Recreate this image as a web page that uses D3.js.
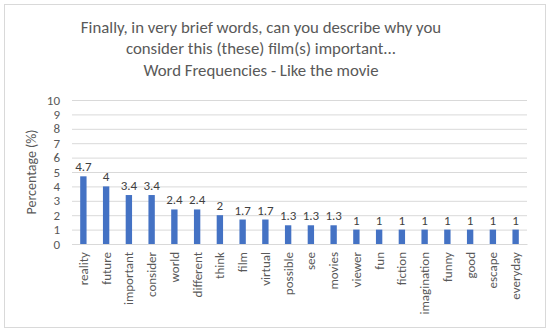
<!DOCTYPE html>
<html><head><meta charset="utf-8">
<script src="https://cdn.jsdelivr.net/npm/d3@7"></script>
<style>body{margin:0;background:#fff}svg{display:block}text{font-family:Calibri,Carlito,"Open Sans","Liberation Sans",sans-serif}</style>
</head><body><svg id="c" width="550" height="333"></svg>
<script>
const categories = ["reality","future","important","consider","world","different","think","film","virtual","possible","see","movies","viewer","fun","fiction","imagination","funny","good","escape","everyday"];
const values = [4.7,4,3.4,3.4,2.4,2.4,2,1.7,1.7,1.3,1.3,1.3,1,1,1,1,1,1,1,1];
const yTicks = [0,1,2,3,4,5,6,7,8,9,10];
const titleLines = ["Finally, in very brief words, can you describe why you","consider this (these) film(s) important...","Word Frequencies - Like the movie"];

const svg = d3.select("#c");
const grey = "#595959";
svg.append("rect").attr("x",4.5).attr("y",4.5).attr("width",541).attr("height",323).attr("fill","#fff").attr("stroke","#d9d9d9");

const L=72,R=527,T=100,B=244;
const x = d3.scaleBand().domain(categories).range([L,R]).paddingInner(0.72).paddingOuter(0.36);
const y = d3.scaleLinear().domain([0,10]).range([B,T]);

svg.append("g").selectAll("line").data(yTicks).join("line")
 .attr("x1",L).attr("x2",R).attr("y1",d=>y(d)+0.5).attr("y2",d=>y(d)+0.5)
 .attr("stroke","#d9d9d9").attr("stroke-width",1);

const ya = d3.axisLeft(y).tickValues(yTicks).tickSize(0).tickPadding(12);
const yg = svg.append("g").attr("transform",`translate(${L},0)`).call(ya);
yg.select(".domain").remove();
yg.selectAll("text").attr("fill",grey).attr("font-size",13).style("font-family",null);

svg.append("g").selectAll("rect").data(values).join("rect")
 .attr("x",(d,i)=>x(categories[i])).attr("width",x.bandwidth())
 .attr("y",d=>y(d)).attr("height",d=>B-y(d)).attr("fill","#4472C4");

svg.append("g").selectAll("text").data(values).join("text")
 .attr("x",(d,i)=>x(categories[i])+x.bandwidth()/2).attr("y",d=>y(d)-5)
 .attr("text-anchor","middle").attr("fill","#404040").attr("font-size",13).text(d=>d);

const xa = d3.axisBottom(x).tickSize(0).tickPadding(0);
const xg = svg.append("g").attr("transform",`translate(0,${B})`).call(xa);
xg.select(".domain").attr("stroke","#d9d9d9");
xg.selectAll("text").attr("fill",grey).attr("font-size",13).style("font-family",null)
 .attr("transform","rotate(-90)").attr("text-anchor","end").attr("x",-8).attr("y",0).attr("dy","0.35em");

svg.append("text").attr("transform",`translate(36,${(T+B)/2}) rotate(-90)`).attr("text-anchor","middle")
 .attr("fill",grey).attr("font-size",14).text("Percentage (%)");

svg.append("g").selectAll("text").data(titleLines).join("text")
 .attr("x",261).attr("y",(d,i)=>32.5+i*21.5).attr("text-anchor","middle").attr("fill",grey).attr("font-size",16.8).text(d=>d);
</script></body></html>
